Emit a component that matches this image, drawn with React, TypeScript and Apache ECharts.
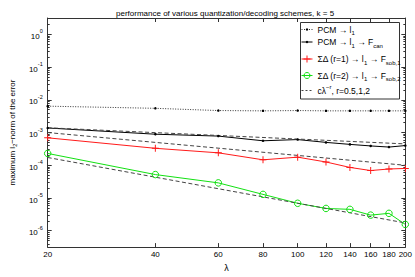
import React, { useEffect, useRef } from 'react';
import * as echarts from 'echarts';

const lambdas = [20, 40, 60, 80, 100, 120, 140, 160, 180, 200];
const pcmL1 = [6.4e-3, 5.5e-3, 4.7e-3, 4.6e-3, 4.7e-3, 4.6e-3, 4.6e-3, 4.6e-3, 4.6e-3, 4.6e-3];
const pcmFcan = [1.38e-3, 8.9e-4, 7.8e-4, 5.6e-4, 6.1e-4, 5.0e-4, 4.35e-4, 3.9e-4, 3.6e-4, 4.0e-4];
const sd1 = [6.9e-4, 3.3e-4, 2.4e-4, 1.47e-4, 1.77e-4, 1.26e-4, 8.6e-5, 6.9e-5, 7.7e-5, 8.0e-5];
const sd2 = [2.3e-4, 5.2e-5, 2.9e-5, 1.29e-5, 6.9e-6, 4.8e-6, 4.5e-6, 3.0e-6, 3.4e-6, 1.56e-6];
const refLambdas = [20, 200];
const ref05 = [1.4e-3, 4.5e-4];
const ref1 = [1.0e-3, 1.0e-4];
const ref2 = [1.73e-4, 1.73e-6];
const yMajor = [1e-6, 1e-5, 1e-4, 1e-3, 1e-2, 1e-1, 1];
const yMinorMult = [2, 3, 4, 5, 6, 7, 8, 9];
const yMinorDecades = [1e-7, 1e-6, 1e-5, 1e-4, 1e-3, 1e-2, 1e-1, 1];

const FONT = '"Liberation Sans", Arial, Helvetica, sans-serif';
const AX = '#333';
const RED = '#ff1a1a';
const GREEN = '#12e012';

const names = {
  pcm: 'PCM → l1',
  fcan: 'PCM → l1 → Fcan',
  s1: 'ΣΔ (r=1) → l1 → Fsob,1',
  s2: 'ΣΔ (r=2) → l1 → Fsob,2',
  ref: 'cλ^-r, r=0.5,1,2',
};

const legendRich: Record<string, string> = {
  [names.pcm]: '{n|PCM → l}{s|1}',
  [names.fcan]: '{n|PCM → l}{s|1}{n| → F}{s|can}',
  [names.s1]: '{n|ΣΔ (r=1) → l}{s|1}{n| → F}{s|sob,1}',
  [names.s2]: '{n|ΣΔ (r=2) → l}{s|1}{n| → F}{s|sob,2}',
  [names.ref]: '{n|cλ}{p|−r}{n|, r=0.5,1,2}',
};

const pairs = (xs: number[], ys: number[]) => xs.map((x, i) => [x, ys[i]]);

export default function App() {
  const ref = useRef<HTMLDivElement>(null);
  useEffect(() => {
    if (!ref.current) return;
    const chart = echarts.init(ref.current, undefined, { renderer: 'svg' });
    const yMinor: number[] = [];
    yMinorDecades.forEach((d) => yMinorMult.forEach((m) => yMinor.push(m * d)));
    const yMin = Math.pow(10, -6.5);
    const yMax = Math.pow(10, 0.5);

    const legendRows: any[] = [
      { name: names.pcm, top: 25, h: 3, lineStyle: { width: 1, type: [1, 1.5] } },
      { name: names.fcan, top: 37.5, h: 3, lineStyle: { width: 1 } },
      { name: names.s1, top: 54.5, h: 8.75, lineStyle: { width: 1 } },
      {
        name: names.s2,
        top: 71,
        h: 7.5,
        lineStyle: { width: 1 },
        itemStyle: { color: 'rgba(255,255,255,0)', borderColor: GREEN, borderWidth: 1 },
      },
      { name: names.ref, top: 84, h: 0.3, lineStyle: { width: 1, type: [2, 2] } },
    ];

    const richText = {
      n: { fontSize: 8.5, fontFamily: FONT, color: '#000', verticalAlign: 'middle', lineHeight: 13 },
      s: { fontSize: 6, fontFamily: FONT, color: '#000', verticalAlign: 'bottom', lineHeight: 13 },
      p: { fontSize: 6, fontFamily: FONT, color: '#000', verticalAlign: 'top', lineHeight: 13 },
    };

    const baseY = {
      type: 'log' as const,
      min: yMin,
      max: yMax,
      splitLine: { show: false },
      axisLine: { show: true, lineStyle: { color: AX, width: 1 } },
    };

    chart.setOption({
      animation: false,
      title: {
        text: 'performance of various quantization/decoding schemes, k = 5',
        left: 111,
        top: 4,
        textStyle: { fontSize: 8, fontWeight: 'normal', fontFamily: FONT, color: '#000' },
      },
      grid: { left: 33, right: 9, top: 18, bottom: 22 },
      graphic: [
        {
          type: 'rect',
          z: 5,
          shape: { x: 300.5, y: 22.5, width: 99, height: 76.5 },
          style: { fill: '#fff', stroke: AX, lineWidth: 1 },
        },
      ],
      legend: legendRows.map((r) => {
        const l: any = {
          data: [r.name],
          left: 301,
          top: r.top,
          padding: 0,
          itemWidth: 11,
          itemHeight: r.h,
          z: 10,
          formatter: (name: string) => legendRich[name],
          textStyle: { fontSize: 8.5, fontFamily: FONT, color: '#000', rich: richText },
        };
        if (r.lineStyle) l.lineStyle = r.lineStyle;
        if (r.itemStyle) l.itemStyle = r.itemStyle;
        return l;
      }),
      xAxis: [
        {
          type: 'log',
          min: 20,
          max: 200,
          name: 'λ',
          nameLocation: 'middle',
          nameGap: 9,
          nameTextStyle: { fontSize: 9, fontFamily: FONT, color: '#000' },
          splitLine: { show: false },
          axisLine: { show: true, lineStyle: { color: AX, width: 1 } },
          axisTick: { show: true, inside: true, length: 4, customValues: lambdas, lineStyle: { color: AX } },
          axisLabel: { show: true, customValues: lambdas, margin: 3, fontSize: 8, fontFamily: FONT, color: '#000' },
        },
        {
          type: 'log',
          min: 20,
          max: 200,
          position: 'top',
          splitLine: { show: false },
          axisLine: { show: true, lineStyle: { color: AX, width: 1 } },
          axisTick: { show: true, inside: true, length: 4, customValues: lambdas, lineStyle: { color: AX } },
          axisLabel: { show: false },
        },
      ],
      yAxis: [
        {
          ...baseY,
          position: 'left',
          name: '{n|maximum l}{s|2}{n|−norm of the error}',
          nameLocation: 'middle',
          nameGap: 24,
          nameTextStyle: {
            rich: {
              n: { fontSize: 8, fontFamily: FONT, color: '#000', verticalAlign: 'middle', lineHeight: 12 },
              s: { fontSize: 5.5, fontFamily: FONT, color: '#000', verticalAlign: 'bottom', lineHeight: 12 },
            },
          },
          axisTick: { show: true, inside: true, length: 4, customValues: yMajor, lineStyle: { color: AX } },
          axisLabel: {
            show: true,
            customValues: yMajor,
            margin: 5,
            formatter: (v: number) => `{b|10}{e|${Math.round(Math.log10(v))}}`,
            rich: {
              b: { fontSize: 8, fontFamily: FONT, color: '#000', verticalAlign: 'bottom', lineHeight: 12 },
              e: { fontSize: 5.5, fontFamily: FONT, color: '#000', verticalAlign: 'top', lineHeight: 12 },
            },
          },
        },
        {
          ...baseY,
          position: 'left',
          axisLine: { show: false },
          axisTick: { show: true, inside: true, length: 2, customValues: yMinor, lineStyle: { color: AX } },
          axisLabel: { show: false },
        },
        {
          ...baseY,
          position: 'right',
          axisTick: { show: true, inside: true, length: 4, customValues: yMajor, lineStyle: { color: AX } },
          axisLabel: { show: false },
        },
        {
          ...baseY,
          position: 'right',
          axisLine: { show: false },
          axisTick: { show: true, inside: true, length: 2, customValues: yMinor, lineStyle: { color: AX } },
          axisLabel: { show: false },
        },
      ],
      series: [
        {
          name: names.pcm,
          type: 'line',
          data: pairs(lambdas, pcmL1),
          symbol: 'circle',
          symbolSize: 2.5,
          itemStyle: { color: '#000' },
          lineStyle: { color: '#333', width: 1, type: [1, 1.5] },
        },
        {
          name: names.fcan,
          type: 'line',
          data: pairs(lambdas, pcmFcan),
          symbol: 'circle',
          symbolSize: 2.5,
          itemStyle: { color: '#000' },
          lineStyle: { color: '#000', width: 1 },
        },
        {
          name: names.s1,
          type: 'line',
          data: pairs(lambdas, sd1),
          symbol: 'path://M4.3,0H5.7V4.3H10V5.7H5.7V10H4.3V5.7H0V4.3H4.3Z',
          symbolSize: 7,
          itemStyle: { color: RED },
          lineStyle: { color: RED, width: 1 },
        },
        {
          name: names.s2,
          type: 'line',
          data: pairs(lambdas, sd2),
          symbol: 'circle',
          symbolSize: 6.5,
          itemStyle: { color: 'rgba(255,255,255,0)', borderColor: GREEN, borderWidth: 1 },
          lineStyle: { color: GREEN, width: 1 },
        },
        {
          name: names.ref,
          type: 'line',
          data: pairs(refLambdas, ref05),
          symbol: 'none',
          itemStyle: { color: '#444' },
          lineStyle: { color: '#444', width: 1, type: [4, 2.5] },
        },
        {
          name: names.ref,
          type: 'line',
          data: pairs(refLambdas, ref1),
          symbol: 'none',
          itemStyle: { color: '#444' },
          lineStyle: { color: '#444', width: 1, type: [4, 2.5] },
        },
        {
          name: names.ref,
          type: 'line',
          data: pairs(refLambdas, ref2),
          symbol: 'none',
          itemStyle: { color: '#444' },
          lineStyle: { color: '#444', width: 1, type: [4, 2.5] },
        },
      ],
    });
    return () => chart.dispose();
  }, []);
  return (
    <div
      ref={ref}
      style={{ position: 'fixed', left: 0, top: 0, width: 415, height: 277, background: '#fff' }}
    />
  );
}
